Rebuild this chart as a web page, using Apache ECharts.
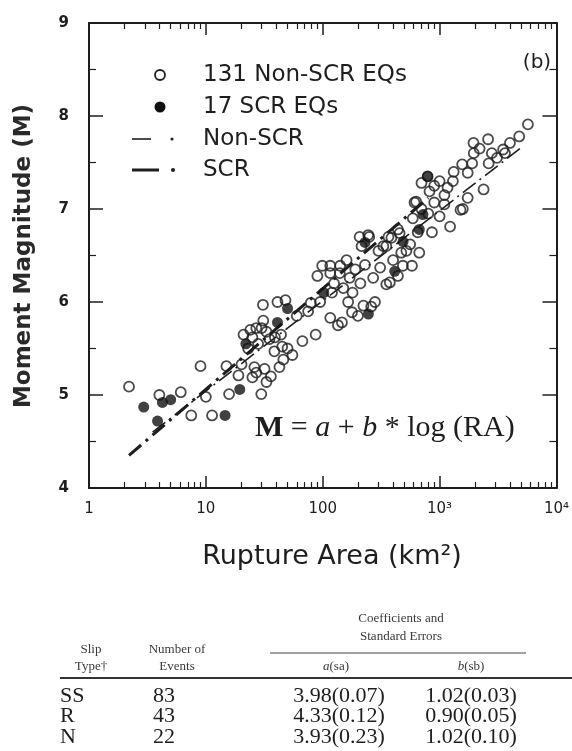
<!DOCTYPE html>
<html><head><meta charset="utf-8">
<script src="https://cdn.jsdelivr.net/npm/echarts@6/dist/echarts.min.js"></script>
<style>html,body{margin:0;padding:0;background:#fff}#c{width:572px;height:751px}</style>
</head><body><div id="c"></div>
<script>
// ---- data ----
const nonScrRA = [2.2,4.0,6.1,10,7.5,11.3,9,15.8,15,20.2,29.8,31.8,42.6,36,25,27,38.6,55,67,87,46,33,
  21,24,27,30,33,25,35,28,23,39,44,31,45,
  30.8,41,79,116,146,178,223,280,60,48,135,165,260,200,
  99,116,141,190,310,485,375,116,140,170,270,350,125,90,160,580,210,440,
  207,250,215,330,365,440,387,455,350,670,470,860,560,300,245,
  590,610,630,900,1510,1230,1580,800,700,1000,
  820,1000,1170,1740,2380,1320,1740,1560,790,1900,2630,900,1100,700,
  1950,1960,2600,3630,3100,4800,5700,3500,4000,2200,
  19,26,50,75,95,120,150,180,230,400,520,650,1100,1300,2800];
const nonScrM = [5.09,5.00,5.03,4.98,4.78,4.78,5.31,5.01,5.31,5.33,5.01,5.28,5.30,5.20,5.19,5.24,5.47,5.43,5.58,5.65,5.38,5.14,
  5.65,5.70,5.72,5.72,5.68,5.62,5.60,5.55,5.50,5.62,5.65,5.80,5.52,
  5.97,6.00,5.99,5.83,5.78,5.89,5.96,6.00,5.85,6.02,5.75,6.00,5.95,5.85,
  6.39,6.39,6.39,6.35,6.37,6.39,6.21,6.31,6.31,6.26,6.26,6.19,6.20,6.28,6.45,6.39,6.20,6.28,
  6.70,6.70,6.60,6.60,6.70,6.78,6.69,6.74,6.60,6.53,6.53,6.75,6.62,6.55,6.72,
  6.90,7.07,7.08,7.07,6.99,6.81,7.00,6.95,7.00,6.92,
  7.19,7.30,7.23,7.12,7.21,7.40,7.39,7.48,7.35,7.49,7.49,7.25,7.15,7.28,
  7.71,7.60,7.75,7.60,7.55,7.78,7.91,7.64,7.71,7.65,
  5.21,5.30,5.50,5.90,6.00,6.10,6.15,6.10,6.40,6.45,6.55,6.75,7.05,7.30,7.60];
const scrRA = [2.94,3.86,4.25,5.0,14.6,19.5,22,41,50,102,246,413,230,487,670,720,790];
const scrM  = [4.87,4.72,4.92,4.95,4.78,5.06,5.55,5.78,5.93,6.10,5.87,6.33,6.64,6.65,6.78,6.94,7.35];
const nonScrFitRA = [3.5, 5000];
const nonScrFitM  = [4.60, 7.66];
const scrFitRA = [2.2, 800];
const scrFitM  = [4.35, 7.12];
const xMajorTicks = [1, 10, 100, 1000, 10000];
const xTickLabels = ['1', '10', '100', '10³', '10⁴'];
const xMinorTicks = [2,3,4,5,6,7,8,9,20,30,40,50,60,70,80,90,200,300,400,500,600,700,800,900,2000,3000,4000,5000,6000,7000,8000,9000];
const yTickLabels = ['4','5','6','7','8','9'];
const legendLabels = ['131 Non-SCR EQs', '17 SCR EQs', 'Non-SCR', 'SCR'];
const slipTypes = ['SS', 'R', 'N'];
const eventCounts = ['83', '43', '22'];
const coefA = ['3.98(0.07)', '4.33(0.12)', '3.93(0.23)'];
const coefB = ['1.02(0.03)', '0.90(0.05)', '1.02(0.10)'];

const INK = '#1e1e1e';
const SANS = '"DejaVu Sans", sans-serif';
const SERIF = '"Liberation Serif", serif';

const chart = echarts.init(document.getElementById('c'), null, {renderer: 'canvas'});
const pair = (xs, ys) => xs.map((x, i) => [x, ys[i]]);

const majorX = (pos, show) => ({
  type: 'log', logBase: 10, min: 1, max: 10000, position: pos, gridIndex: 0,
  axisLine: {show: true, onZero: false, lineStyle: {color: INK, width: 2}},
  axisTick: {show: true, inside: true, length: 12, lineStyle: {color: INK, width: 1.5}},
  axisLabel: show ? {show: true, margin: 14, color: INK, fontSize: 15, fontFamily: SANS,
    formatter: v => { const i = xMajorTicks.indexOf(Math.round(v)); return i >= 0 ? xTickLabels[i] : ''; }} : {show: false},
  splitLine: {show: false}
});
const minorX = (pos) => ({
  type: 'log', logBase: 10, min: 1, max: 10000, position: pos, gridIndex: 0,
  axisLine: {show: false},
  axisTick: {show: true, inside: true, length: 6, customValues: xMinorTicks, lineStyle: {color: INK, width: 1.2}},
  axisLabel: {show: false}, splitLine: {show: false}
});
const yAx = (pos, show) => ({
  type: 'value', min: 4, max: 9, interval: 1, position: pos, gridIndex: 0,
  axisLine: {show: true, onZero: false, lineStyle: {color: INK, width: 2}},
  axisTick: {show: true, inside: true, length: 14, lineStyle: {color: INK, width: 1.5}},
  minorTick: {show: true, splitNumber: 2, length: 7, lineStyle: {color: INK, width: 1.2}},
  axisLabel: show ? {show: true, margin: 20, color: INK, fontSize: 15, fontWeight: 'bold', fontFamily: SANS} : {show: false},
  splitLine: {show: false}, minorSplitLine: {show: false}
});

const graphics = [];
// legend
graphics.push({type: 'circle', shape: {cx: 160, cy: 75, r: 5}, style: {fill: 'none', stroke: INK, lineWidth: 1.8}});
graphics.push({type: 'circle', shape: {cx: 160, cy: 107, r: 5.5}, style: {fill: '#111'}});
graphics.push({type: 'line', shape: {x1: 132, y1: 139, x2: 151, y2: 139}, style: {stroke: INK, lineWidth: 1.6}});
graphics.push({type: 'circle', shape: {cx: 172, cy: 139, r: 1.6}, style: {fill: INK}});
graphics.push({type: 'line', shape: {x1: 132, y1: 170, x2: 159, y2: 170}, style: {stroke: INK, lineWidth: 3}});
graphics.push({type: 'circle', shape: {cx: 173, cy: 170, r: 2}, style: {fill: INK}});
[75, 107, 139, 170].forEach((y, i) => graphics.push({type: 'text', x: 203, y: y,
  style: {text: legendLabels[i], font: '23px ' + SANS, fill: INK, align: 'left', verticalAlign: 'middle'}}));
// panel tag
graphics.push({type: 'text', x: 537, y: 63, style: {text: '(b)', font: '20px ' + SANS, fill: INK, align: 'center', verticalAlign: 'middle'}});
// equation
graphics.push({type: 'text', x: 255, y: 428, style: {
  text: '{m|M} = {i|a} + {i|b} * log (RA)', font: '30px ' + SERIF, fill: INK, align: 'left', verticalAlign: 'middle',
  rich: {m: {fontWeight: 'bold', fontSize: 30, fontFamily: SERIF, fill: INK}, i: {fontStyle: 'italic', fontSize: 30, fontFamily: SERIF, fill: INK}}}});
// axis titles
graphics.push({type: 'text', x: 24, y: 256, rotation: Math.PI / 2, style: {text: 'Moment Magnitude (M)', font: 'bold 23px ' + SANS, fill: '#2a2a2a', align: 'center', verticalAlign: 'middle'}});
graphics.push({type: 'text', x: 332, y: 557, style: {text: 'Rupture Area (km²)', font: '27px ' + SANS, fill: INK, align: 'center', verticalAlign: 'middle'}});
// table
const hdr = '13px ' + SERIF, hdrInk = '#3a3a3a';
graphics.push({type: 'text', x: 401, y: 619, style: {text: 'Coefficients and', font: hdr, fill: hdrInk, align: 'center', verticalAlign: 'middle'}});
graphics.push({type: 'text', x: 401, y: 637, style: {text: 'Standard Errors', font: hdr, fill: hdrInk, align: 'center', verticalAlign: 'middle'}});
graphics.push({type: 'line', shape: {x1: 270, y1: 653, x2: 526, y2: 653}, style: {stroke: '#444', lineWidth: 1.2}});
graphics.push({type: 'text', x: 91, y: 650, style: {text: 'Slip', font: hdr, fill: hdrInk, align: 'center', verticalAlign: 'middle'}});
graphics.push({type: 'text', x: 91, y: 667, style: {text: 'Type†', font: hdr, fill: hdrInk, align: 'center', verticalAlign: 'middle'}});
graphics.push({type: 'text', x: 177, y: 650, style: {text: 'Number of', font: hdr, fill: hdrInk, align: 'center', verticalAlign: 'middle'}});
graphics.push({type: 'text', x: 177, y: 667, style: {text: 'Events', font: hdr, fill: hdrInk, align: 'center', verticalAlign: 'middle'}});
graphics.push({type: 'text', x: 336, y: 667, style: {text: '{i|a}(sa)', font: hdr, fill: hdrInk, align: 'center', verticalAlign: 'middle',
  rich: {i: {fontStyle: 'italic', fontSize: 13, fontFamily: SERIF, fill: hdrInk}}}});
graphics.push({type: 'text', x: 471, y: 667, style: {text: '{i|b}(sb)', font: hdr, fill: hdrInk, align: 'center', verticalAlign: 'middle',
  rich: {i: {fontStyle: 'italic', fontSize: 13, fontFamily: SERIF, fill: hdrInk}}}});
graphics.push({type: 'line', shape: {x1: 60, y1: 678, x2: 572, y2: 678}, style: {stroke: '#333', lineWidth: 1.8}});
const rowY = [696, 716, 737];
const rowFont = '22px ' + SERIF;
slipTypes.forEach((s, i) => {
  graphics.push({type: 'text', x: 60, y: rowY[i], style: {text: s, font: rowFont, fill: INK, align: 'left', verticalAlign: 'middle'}});
  graphics.push({type: 'text', x: 164, y: rowY[i], style: {text: eventCounts[i], font: rowFont, fill: INK, align: 'center', verticalAlign: 'middle'}});
  graphics.push({type: 'text', x: 339, y: rowY[i], style: {text: coefA[i], font: rowFont, fill: INK, align: 'center', verticalAlign: 'middle'}});
  graphics.push({type: 'text', x: 471, y: rowY[i], style: {text: coefB[i], font: rowFont, fill: INK, align: 'center', verticalAlign: 'middle'}});
});

chart.setOption({
  animation: false,
  backgroundColor: '#fff',
  grid: {left: 89, right: 10, top: 23, bottom: 263, containLabel: false},
  xAxis: [majorX('bottom', true), minorX('bottom'), majorX('top', false), minorX('top')],
  yAxis: [yAx('left', true), yAx('right', false)],
  series: [
    {type: 'line', name: 'Non-SCR', xAxisIndex: 0, yAxisIndex: 0, data: pair(nonScrFitRA, nonScrFitM), symbol: 'none', z: 2,
     lineStyle: {color: INK, width: 1.6, type: [16, 5, 2, 5]}},
    {type: 'line', name: 'SCR', xAxisIndex: 0, yAxisIndex: 0, data: pair(scrFitRA, scrFitM), symbol: 'none', z: 2,
     lineStyle: {color: INK, width: 3, type: [16, 6, 3, 6]}},
    {type: 'scatter', name: '131 Non-SCR EQs', xAxisIndex: 0, yAxisIndex: 0, data: pair(nonScrRA, nonScrM), symbol: 'circle', symbolSize: 10, z: 3,
     itemStyle: {color: 'rgba(255,255,255,0)', borderColor: INK, borderWidth: 1.8}},
    {type: 'scatter', name: '17 SCR EQs', xAxisIndex: 0, yAxisIndex: 0, data: pair(scrRA, scrM), symbol: 'circle', symbolSize: 11, z: 4,
     itemStyle: {color: '#111'}}
  ],
  graphic: graphics
});
</script></body></html>
